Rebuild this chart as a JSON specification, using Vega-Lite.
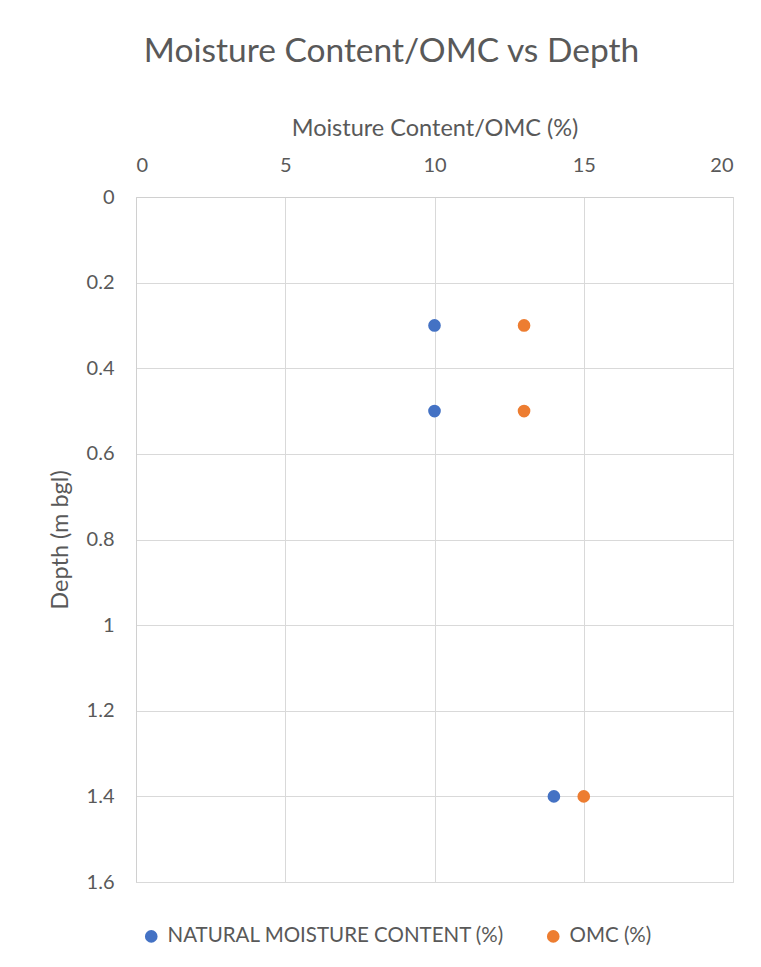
{
  "$schema": "https://vega.github.io/schema/vega-lite/v6.json",
  "width": 597,
  "height": 685,
  "autosize": {"type": "none"},
  "padding": {"left": 136, "top": 197, "right": 28, "bottom": 85},
  "background": "white",
  "title": {
    "text": "Moisture Content/OMC vs Depth",
    "font": "Lato",
    "fontSize": 33.5,
    "fontWeight": "normal",
    "color": "#595959",
    "anchor": "middle",
    "dx": -43,
    "offset": 47
  },
  "data": {
    "values": [
      {"series": "NATURAL MOISTURE CONTENT (%)", "mc": 10, "depth": 0.3},
      {"series": "NATURAL MOISTURE CONTENT (%)", "mc": 10, "depth": 0.5},
      {"series": "NATURAL MOISTURE CONTENT (%)", "mc": 14, "depth": 1.4},
      {"series": "OMC (%)", "mc": 13, "depth": 0.3},
      {"series": "OMC (%)", "mc": 13, "depth": 0.5},
      {"series": "OMC (%)", "mc": 15, "depth": 1.4}
    ]
  },
  "mark": {"type": "circle", "size": 160, "opacity": 1},
  "encoding": {
    "x": {
      "field": "mc",
      "type": "quantitative",
      "scale": {"domain": [0, 20], "nice": false, "zero": false},
      "axis": {
        "orient": "top",
        "title": "Moisture Content/OMC (%)",
        "values": [0, 5, 10, 15, 20],
        "labelPadding": 22,
        "titlePadding": 15
      }
    },
    "y": {
      "field": "depth",
      "type": "quantitative",
      "scale": {"domain": [0, 1.6], "reverse": true, "nice": false, "zero": false},
      "axis": {
        "title": "Depth (m bgl)",
        "values": [0, 0.2, 0.4, 0.6, 0.8, 1, 1.2, 1.4, 1.6],
        "format": "~g",
        "labelPadding": 22,
        "titlePadding": 14
      }
    },
    "color": {
      "field": "series",
      "type": "nominal",
      "scale": {
        "domain": ["NATURAL MOISTURE CONTENT (%)", "OMC (%)"],
        "range": ["#4472C4", "#ED7D31"]
      },
      "legend": {
        "title": null,
        "orient": "none",
        "direction": "horizontal",
        "legendX": 5,
        "legendY": 729,
        "symbolType": "circle",
        "symbolSize": 160,
        "symbolStrokeWidth": 0,
        "labelFont": "Lato",
        "labelFontSize": 20.5,
        "labelColor": "#595959",
        "labelLimit": 500,
        "labelOffset": 6,
        "columnPadding": 38
      }
    }
  },
  "config": {
    "view": {"stroke": "#d9d9d9", "strokeWidth": 1},
    "axis": {
      "grid": true,
      "gridColor": "#d9d9d9",
      "gridWidth": 1,
      "domainColor": "#d0d0d0",
      "domainWidth": 1,
      "ticks": false,
      "labelFont": "Lato",
      "labelFontSize": 20,
      "labelColor": "#595959",
      "titleFont": "Lato",
      "titleFontSize": 23.5,
      "titleFontWeight": "normal",
      "titleColor": "#595959"
    }
  }
}
